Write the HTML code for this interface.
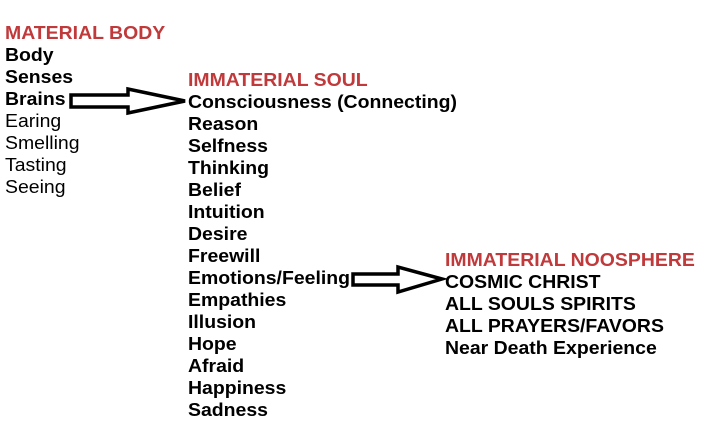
<!DOCTYPE html>
<html><head><style>
body{margin:0;width:703px;height:433px;background:#fff;position:relative;overflow:hidden;font-family:"Liberation Sans",Arial,sans-serif;font-size:18px;color:#000}
.c{position:absolute;line-height:22px;white-space:nowrap;transform:scaleX(1.08);transform-origin:0 0}
.c div{font-weight:bold}
.c .r{color:#c0393b}
.c .n{font-weight:normal}
</style></head><body>
<div class="c" style="left:5px;top:22px">
<div class="r">MATERIAL BODY</div><div>Body</div><div>Senses</div><div>Brains</div>
<div class="n">Earing</div><div class="n">Smelling</div><div class="n">Tasting</div><div class="n">Seeing</div>
</div>
<div class="c" style="left:188px;top:69px">
<div class="r">IMMATERIAL SOUL</div><div>Consciousness (Connecting)</div><div>Reason</div><div>Selfness</div><div>Thinking</div><div>Belief</div><div>Intuition</div><div>Desire</div><div>Freewill</div><div>Emotions/Feeling</div><div>Empathies</div><div>Illusion</div><div>Hope</div><div>Afraid</div><div>Happiness</div><div>Sadness</div>
</div>
<div class="c" style="left:445px;top:249px">
<div class="r">IMMATERIAL NOOSPHERE</div><div>COSMIC CHRIST</div><div>ALL SOULS SPIRITS</div><div>ALL PRAYERS/FAVORS</div><div>Near Death Experience</div>
</div>
<svg width="703" height="433" style="position:absolute;left:0;top:0">
<polygon points="71,95 128,95 128,89 185,101 128,113 128,107 71,107" fill="#fff" stroke="#000" stroke-width="3.5"/>
<polygon points="353,274 398,274 398,267 442,279 398,292 398,285 353,285" fill="#fff" stroke="#000" stroke-width="3.5"/>
</svg>
</body></html>
